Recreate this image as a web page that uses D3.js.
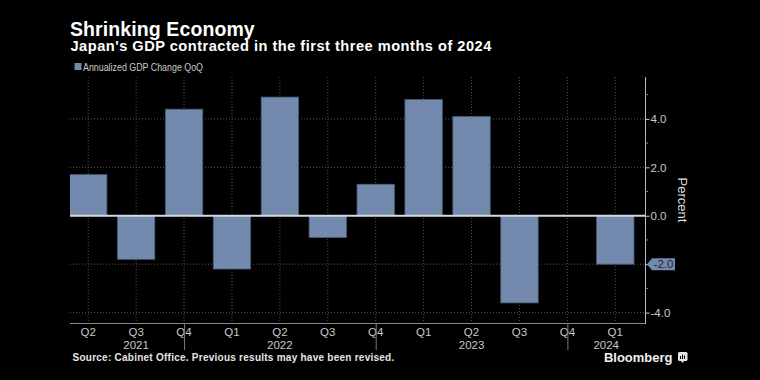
<!DOCTYPE html>
<html>
<head>
<meta charset="utf-8">
<script src="https://cdn.jsdelivr.net/npm/d3@7"></script>
<style>
  html, body { margin: 0; padding: 0; background: #000; }
  svg { display: block; }
  text { font-family: "Liberation Sans", Arial, sans-serif; }
</style>
</head>
<body>
<svg id="chart" width="760" height="380"></svg>
<script>
const quarters = ["Q2","Q3","Q4","Q1","Q2","Q3","Q4","Q1","Q2","Q3","Q4","Q1"];
const years = ["2021","2022","2023","2024"];
const yearMid = [1, 4, 8, 10.81];         // position of year labels (in quarter index)
const yearBreaks = [2, 6, 10];             // long separator ticks (quarter index)
const gdpChange = [1.7, -1.8, 4.4, -2.2, 4.9, -0.9, 1.3, 4.8, 4.1, -3.6, 0.0, -2.0];
const yTicks = [-4, -2, 0, 2, 4];
const yMinorTicks = [-3, -1, 1, 3, 5];
const lastLabel = "-2.0";

const W = 760, H = 380;
const L = 70, R = 645, T = 77, B = 323;
const barColor = "#7389ad";

const svg = d3.select("#chart");
svg.append("rect").attr("width", W).attr("height", H).attr("fill", "#000");

const x = d3.scaleLinear().domain([-0.38, 11.62]).range([L, R]);
const y = d3.scaleLinear().domain([-4.43, 5.73]).range([B, T]);
const step = x(1) - x(0);
const bw = step * 0.78;
const fmt = v => d3.format(".1f")(v).replace("\u2212", "-");

// title
svg.append("text").attr("x", 70).attr("y", 36)
  .attr("fill", "#fff").attr("font-weight", "bold").attr("font-size", 19.5)
  .attr("letter-spacing", 0.1)
  .text("Shrinking Economy");
svg.append("text").attr("x", 70.5).attr("y", 51)
  .attr("fill", "#fff").attr("font-weight", "bold").attr("font-size", 14.6)
  .attr("letter-spacing", 0.5)
  .text("Japan's GDP contracted in the first three months of 2024");

// legend
svg.append("rect").attr("x", 74.5).attr("y", 63).attr("width", 7).attr("height", 7).attr("fill", barColor);
svg.append("text").attr("x", 83).attr("y", 71).attr("fill", "#c8c8c8").attr("font-size", 10)
  .attr("textLength", 120).attr("lengthAdjust", "spacingAndGlyphs")
  .text("Annualized GDP Change QoQ");

// grid
const grid = svg.append("g");
grid.selectAll("line.v").data(quarters).join("line")
  .attr("x1", (d, i) => x(i)).attr("x2", (d, i) => x(i))
  .attr("y1", T).attr("y2", B)
  .attr("stroke", "#555").attr("stroke-width", 1).attr("stroke-dasharray", "1,2");
grid.selectAll("line.h").data(yTicks.filter(d => d !== 0)).join("line")
  .attr("x1", L).attr("x2", R)
  .attr("y1", d => y(d)).attr("y2", d => y(d))
  .attr("stroke", "#555").attr("stroke-width", 1).attr("stroke-dasharray", "1,2");

// bars
svg.append("clipPath").attr("id", "clip").append("rect")
  .attr("x", L).attr("y", T).attr("width", R - L).attr("height", B - T);
svg.append("g").attr("clip-path", "url(#clip)")
  .selectAll("rect").data(gdpChange).join("rect")
  .attr("x", (d, i) => x(i) - bw / 2)
  .attr("width", bw)
  .attr("y", d => y(Math.max(0, d)))
  .attr("height", d => Math.abs(y(d) - y(0)))
  .attr("fill", barColor)
  .attr("stroke", "#4d5c75").attr("stroke-width", 0.8);

// zero line
svg.append("line").attr("x1", L).attr("x2", R).attr("y1", y(0)).attr("y2", y(0))
  .attr("stroke", "#d8d8d8").attr("stroke-width", 2);

// bottom axis line
svg.append("line").attr("x1", L).attr("x2", R).attr("y1", B + 0.5).attr("y2", B + 0.5)
  .attr("stroke", "#888").attr("stroke-width", 1);

// right axis
const lv = gdpChange[gdpChange.length - 1];
const yAxis = d3.axisRight(y).tickValues(yTicks).tickSize(4).tickPadding(1)
  .tickFormat(fmt);
const ya = svg.append("g").attr("transform", `translate(${R + 0.5},0)`).call(yAxis);
ya.select(".domain").remove();
ya.selectAll(".tick line").attr("stroke", "#ccc");
ya.selectAll(".tick text").attr("fill", "#c8c8c8").attr("font-size", 11.5)
  .attr("font-family", "Liberation Sans, Arial, sans-serif");
// the badge replaces the tick label at the last value
ya.selectAll(".tick").filter(d => fmt(d) === lastLabel).select("text").remove();
svg.append("line").attr("x1", R + 0.5).attr("x2", R + 0.5).attr("y1", T).attr("y2", B + 1)
  .attr("stroke", "#bbb").attr("stroke-width", 1);
svg.append("g").selectAll("line").data(yMinorTicks).join("line")
  .attr("x1", R).attr("x2", R + 3).attr("y1", d => y(d)).attr("y2", d => y(d))
  .attr("stroke", "#888");

// y title
svg.append("text").attr("transform", `translate(678,200) rotate(90)`)
  .attr("text-anchor", "middle").attr("fill", "#ddd").attr("font-size", 13)
  .text("Percent");

// last value badge
const by = y(lv);
const bx = R + 2;
svg.append("path")
  .attr("d", `M${bx},${by} L${bx + 5},${by - 6} L${bx + 28},${by - 6} L${bx + 28},${by + 6} L${bx + 5},${by + 6} Z`)
  .attr("fill", barColor);
svg.append("text").attr("x", bx + 16.5).attr("y", by + 4).attr("text-anchor", "middle")
  .attr("fill", "#1e2430").attr("font-size", 11.5).text(lastLabel);

// x labels
svg.append("g").selectAll("text").data(quarters).join("text")
  .attr("x", (d, i) => x(i)).attr("y", 336).attr("text-anchor", "middle")
  .attr("fill", "#c8c8c8").attr("font-size", 11.5).text(d => d);
svg.append("g").selectAll("text").data(years).join("text")
  .attr("x", (d, i) => x(yearMid[i])).attr("y", 348.5).attr("text-anchor", "middle")
  .attr("fill", "#c8c8c8").attr("font-size", 11.5).text(d => d);
svg.append("g").selectAll("line").data(yearBreaks).join("line")
  .attr("x1", d => x(d) + 0.5).attr("x2", d => x(d) + 0.5).attr("y1", B).attr("y2", 350)
  .attr("stroke", "#777");

// source
svg.append("text").attr("x", 72.5).attr("y", 361).attr("fill", "#e6e6e6")
  .attr("font-weight", "bold").attr("font-size", 10).attr("letter-spacing", 0.25)
  .text("Source: Cabinet Office. Previous results may have been revised.");

// Bloomberg logo
svg.append("text").attr("x", 672.5).attr("y", 361.5).attr("text-anchor", "end")
  .attr("fill", "#f0f0f0").attr("font-weight", "bold").attr("font-size", 13)
  .text("Bloomberg");
const lg = svg.append("g").attr("transform", "translate(678,352)");
lg.append("rect").attr("width", 9.5).attr("height", 9).attr("rx", 1.5).attr("fill", "#e8e8e8");
lg.append("path").attr("d", "M2.5,4 v3 M4.5,2.5 v4.5 M6.5,3.5 v3.5").attr("stroke", "#000").attr("stroke-width", 1.1);
lg.append("path").attr("d", "M3,9 L4.5,11 L6,9 Z").attr("fill", "#e8e8e8");
</script>
</body>
</html>
